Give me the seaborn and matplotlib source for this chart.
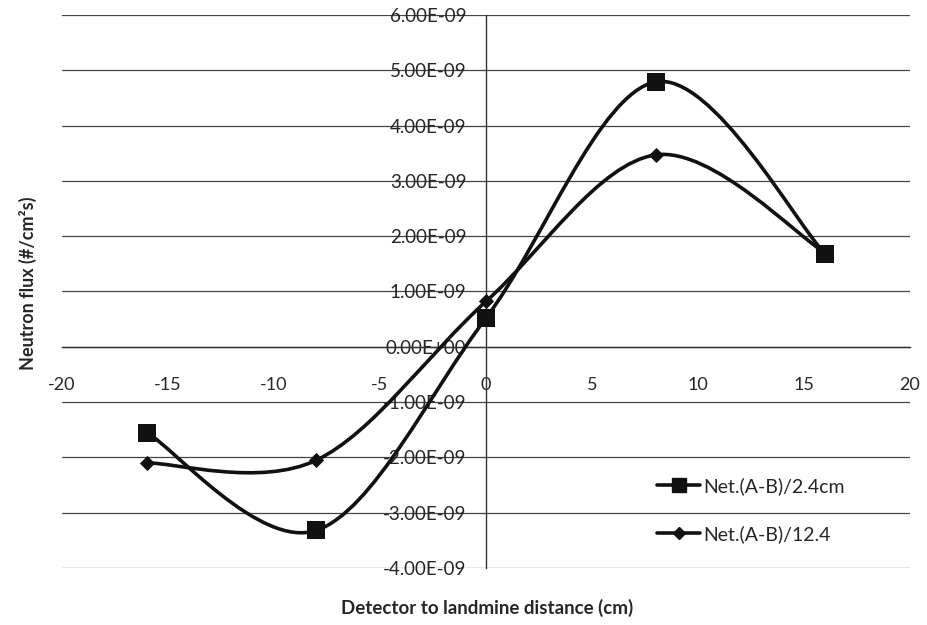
import matplotlib
matplotlib.use("Agg")
import matplotlib.pyplot as plt
import seaborn as sns
import numpy as np
from matplotlib.path import Path
from matplotlib.patches import PathPatch
from matplotlib.lines import Line2D
from matplotlib.ticker import FixedLocator, MultipleLocator, FuncFormatter

# data
distance = [-16, -8, 0, 8, 16]
net_24 = [-1.55e-9, -3.32e-9, 0.52e-9, 4.79e-9, 1.68e-9]
net_124 = [-2.10e-9, -2.05e-9, 0.82e-9, 3.47e-9, 1.70e-9]
labels = ['Net.(A-B)/2.4cm', 'Net.(A-B)/12.4']
y_ticks = [i * 1e-9 for i in range(-4, 7)]
x_ticks = [-20, -15, -10, -5, 0, 5, 10, 15, 20]


def smooth_path(xs, ys):
    # excel style smoothed line: cubic bezier through every point
    pts = np.column_stack([xs, ys])
    n = len(pts)
    verts = [pts[0]]
    codes = [Path.MOVETO]
    for i in range(n - 1):
        p0 = pts[i - 1] if i > 0 else pts[i]
        p1 = pts[i]
        p2 = pts[i + 1]
        p3 = pts[i + 2] if i + 2 < n else pts[i + 1]
        c1 = p1 + (p2 - p0) / 6
        c2 = p2 - (p3 - p1) / 6
        verts += [c1, c2, p2]
        codes += [Path.CURVE4] * 3
    return Path(verts, codes)


sns.set_style("white")
plt.rcParams['font.family'] = ['Lato', 'DejaVu Sans']
plt.rcParams['axes.unicode_minus'] = False

fig = plt.figure(figsize=(9.28, 6.25), dpi=100)
ax = fig.add_axes([0.0668, 0.0912, 0.9138, 0.8848])

for ys, mk, ms in [(net_24, 's', 150), (net_124, 'D', 60)]:
    ax.add_patch(PathPatch(smooth_path(distance, ys), fill=False,
                           edgecolor='#111111', lw=2.6, zorder=3))
    sns.scatterplot(x=distance, y=ys, marker=mk, s=ms, color='#111111',
                    edgecolor='#111111', linewidth=0, ax=ax, zorder=4, legend=False)

ax.set_xlim(-20, 20)
ax.set_ylim(-4e-9, 6e-9)

ax.spines['left'].set_position(('data', 0))
ax.spines['bottom'].set_position(('data', 0))
ax.spines['top'].set_visible(False)
ax.spines['right'].set_visible(False)
for s in ['left', 'bottom']:
    ax.spines[s].set_color('#333333')
    ax.spines[s].set_linewidth(1.0)

ax.yaxis.set_major_locator(FixedLocator(y_ticks))
ax.yaxis.set_minor_locator(MultipleLocator(0.2e-9))
ax.yaxis.set_major_formatter(FuncFormatter(lambda v, p: '%.2E' % v))
ax.xaxis.set_major_locator(FixedLocator(x_ticks))
ax.xaxis.set_minor_locator(MultipleLocator(1))

ax.tick_params(axis='y', which='major', direction='inout', length=8, width=1,
               color='#333333', labelsize=13.5, pad=10)
ax.tick_params(axis='y', which='minor', direction='inout', length=6, width=1, color='#333333')
ax.tick_params(axis='x', which='major', direction='in', length=5, width=1,
               color='#333333', labelsize=13, pad=22)
ax.tick_params(axis='x', which='minor', direction='in', length=4, width=1, color='#333333')

ax.yaxis.grid(True, color='#444444', linewidth=0.9)
ax.set_axisbelow(True)

fig.text(0.03, 0.547, 'Neutron flux (#/cm²s)', rotation=90, ha='center', va='center',
         fontsize=13, fontweight='bold')
fig.text(0.525, 0.028, 'Detector to landmine distance (cm)', ha='center', va='center',
         fontsize=13.5, fontweight='bold')

handles = [Line2D([], [], color='#111111', lw=2.6, marker='s', markersize=10),
           Line2D([], [], color='#111111', lw=2.6, marker='D', markersize=6)]
ax.legend(handles, labels, loc='upper left', bbox_to_anchor=(0.702, 0.165),
          frameon=False, fontsize=14, handlelength=2.2, handletextpad=0.15,
          labelspacing=1.55, borderaxespad=0, borderpad=0)

fig.savefig('out.png', dpi=100)
